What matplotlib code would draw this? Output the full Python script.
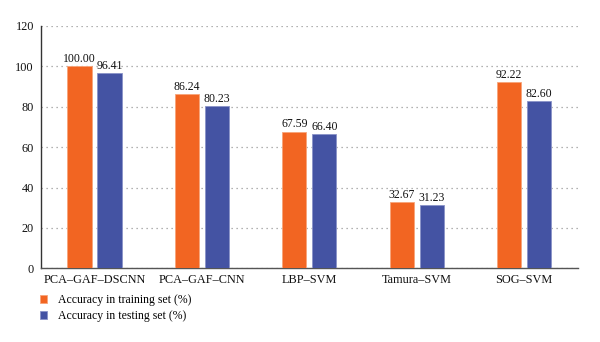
import numpy as np
import matplotlib.pyplot as plt

methods = ['PCA–GAF–DSCNN', 'PCA–GAF–CNN', 'LBP–SVM', 'Tamura–SVM', 'SOG–SVM']
train_acc = [100.00, 86.24, 67.59, 32.67, 92.22]
test_acc = [96.41, 80.23, 66.40, 31.23, 82.60]
yticks = [0, 20, 40, 60, 80, 100, 120]

plt.rcParams['font.family'] = ['Liberation Serif', 'DejaVu Serif']

fig = plt.figure(figsize=(6, 3.42), dpi=100)
ax = fig.add_axes([0.068, 0.215, 0.895, 0.71])

x = np.arange(len(methods))
w = 0.225
off = 0.14
b1 = ax.bar(x - off, train_acc, w, color='#f26522', edgecolor='#f7a57a', linewidth=0.6,
            label='Accuracy in training set (%)', zorder=3)
b2 = ax.bar(x + off, test_acc, w, color='#4453a3', edgecolor='#8a93c8', linewidth=0.6,
            label='Accuracy in testing set (%)', zorder=3)

# value labels above each bar
for bars, vals in ((b1, train_acc), (b2, test_acc)):
    for r, v in zip(bars, vals):
        ax.text(r.get_x() + r.get_width() / 2, v + 0.6, f'{v:.2f}', ha='center', va='bottom',
                fontsize=8.5, color='#111111')

ax.set_xlim(-0.5, 4.5)
ax.set_ylim(0, 120)
ax.set_yticks(yticks)
ax.set_xticks(x)
ax.set_xticklabels(methods)
ax.tick_params(axis='both', length=0, colors='#111111')
ax.tick_params(axis='y', pad=5, labelsize=8.8)
ax.tick_params(axis='x', pad=4, labelsize=8.8)
ax.yaxis.grid(True, linestyle=(0, (1, 3)), color='#999999', linewidth=0.9)
ax.set_axisbelow(True)
for s in ['top', 'right']:
    ax.spines[s].set_visible(False)
ax.spines['left'].set_color('#333333')
ax.spines['bottom'].set_color('#555555')
ax.spines['left'].set_linewidth(1.0)
ax.spines['bottom'].set_linewidth(1.0)

fig.legend(handles=[b1, b2], loc='upper left', bbox_to_anchor=(0.066, 0.14), frameon=False,
           fontsize=8.5, handlelength=0.65, handleheight=0.65, handletextpad=0.9,
           labelspacing=0.35, borderaxespad=0, borderpad=0)

fig.savefig('out.png', dpi=100)
